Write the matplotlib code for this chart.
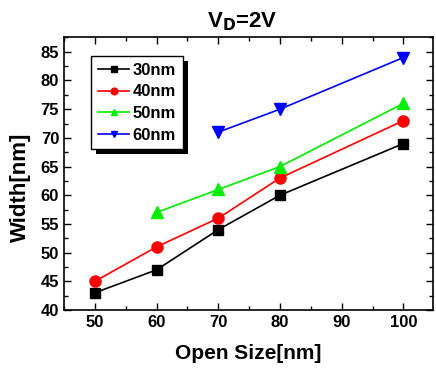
import matplotlib
matplotlib.use("Agg")
import matplotlib.pyplot as plt
import matplotlib.patheffects as pe
from matplotlib.ticker import MultipleLocator

plt.rcParams['font.family'] = ['Liberation Sans', 'DejaVu Sans']
plt.rcParams['font.weight'] = 'bold'

# dados
x_30 = [50, 60, 70, 80, 100]
w_30 = [43, 47, 54, 60, 69]
x_40 = [50, 60, 70, 80, 100]
w_40 = [45, 51, 56, 63, 73]
x_50 = [60, 70, 80, 100]
w_50 = [57, 61, 65, 76]
x_60 = [70, 80, 100]
w_60 = [71, 75, 84]

fig = plt.figure(figsize=(4.36, 3.69), dpi=100)
ax = fig.add_axes([0.147, 0.160, 0.846, 0.740])

ax.plot(x_30, w_30, color='black', marker='s', ms=7, lw=1.2, label='30nm')
ax.plot(x_40, w_40, color='red', marker='o', ms=8, lw=1.2, label='40nm')
ax.plot(x_50, w_50, color='#00ee00', marker='^', ms=8, lw=1.2, label='50nm')
ax.plot(x_60, w_60, color='blue', marker='v', ms=8, lw=1.2, label='60nm')

ax.set_xlim(45, 104.8)
ax.set_ylim(40, 87.6)
ax.set_xticks([50, 60, 70, 80, 90, 100])
ax.xaxis.set_minor_locator(MultipleLocator(5))
ax.yaxis.set_major_locator(MultipleLocator(5))
ax.yaxis.set_minor_locator(MultipleLocator(2.5))
ax.tick_params(which='both', direction='in', top=True, right=True, labelsize=12)
ax.tick_params(which='major', length=5, width=1)
ax.tick_params(which='minor', length=3, width=1)
for s in ax.spines.values():
    s.set_linewidth(1.2)

ax.set_xlabel('Open Size[nm]', fontsize=15, fontweight='bold', labelpad=10)
ax.set_ylabel('Width[nm]', fontsize=16, fontweight='bold')
ax.yaxis.set_label_coords(-0.09, 0.449)
ax.set_title('V$_\\mathbf{D}$=2V', fontsize=16, fontweight='bold', pad=7, x=0.482)

leg = ax.legend(loc='upper left', bbox_to_anchor=(0.073, 0.930), borderaxespad=0,
                fontsize=12, frameon=True, fancybox=False, edgecolor='black',
                handlelength=1.9, handletextpad=0.2, borderpad=0.4, labelspacing=0.4,
                markerscale=0.6)
leg.get_frame().set_linewidth(1)
leg.get_frame().set_alpha(1)
leg.get_frame().set_path_effects([pe.SimplePatchShadow(offset=(3.6, -3.6), shadow_rgbFace='black', alpha=1),
                                  pe.Normal()])

fig.savefig('out.png', dpi=100)
